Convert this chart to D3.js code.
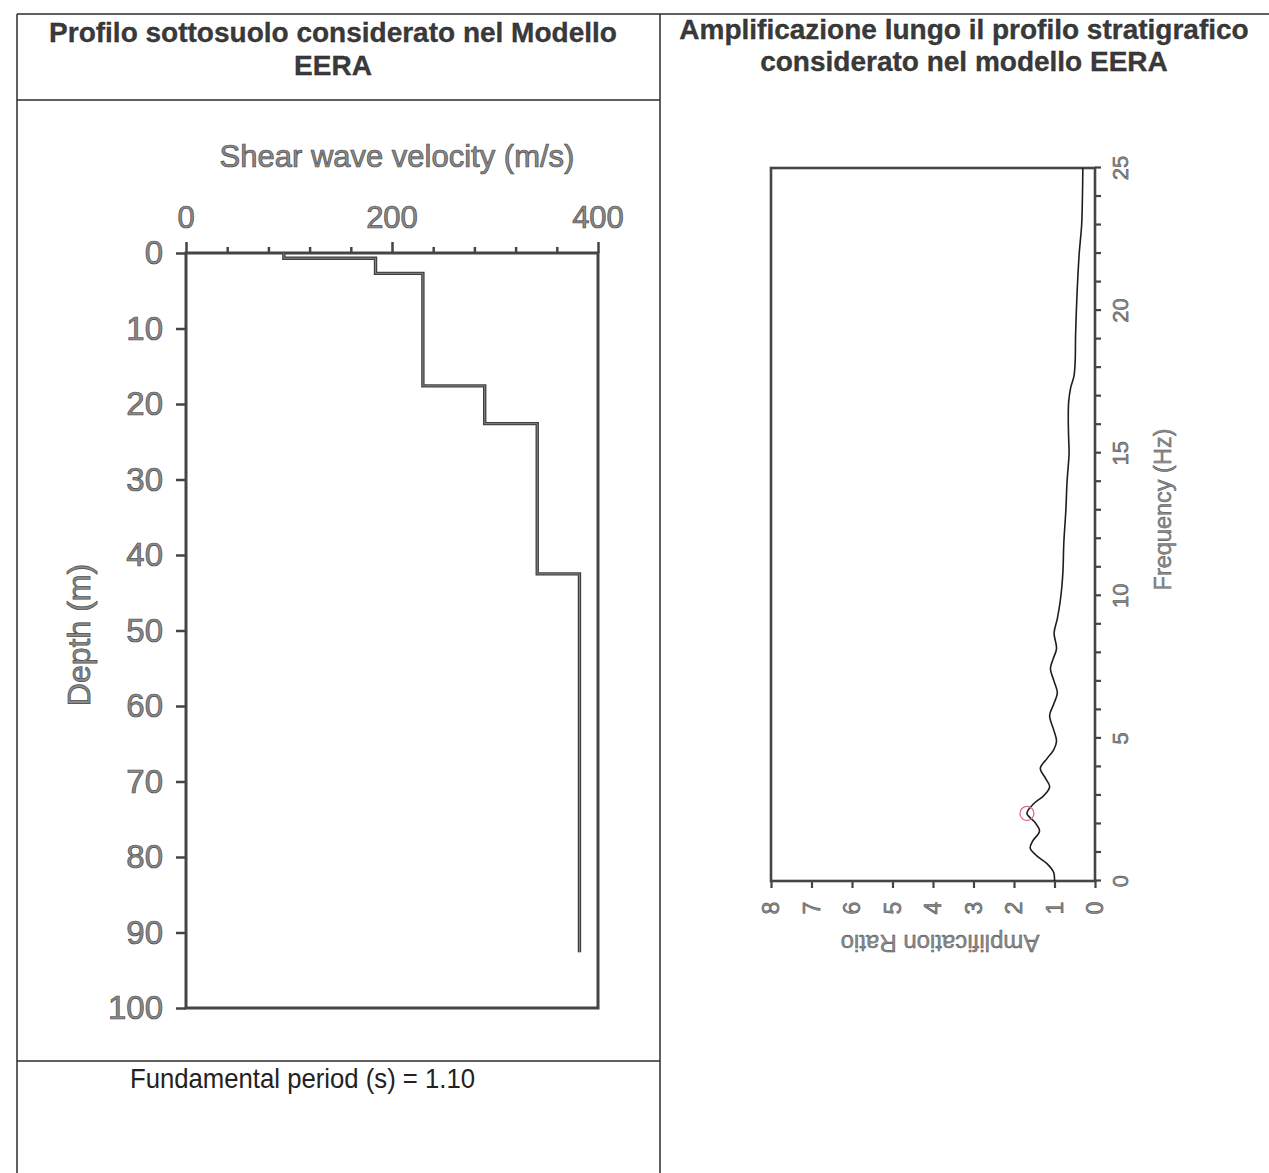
<!DOCTYPE html>
<html>
<head>
<meta charset="utf-8">
<script src="https://cdn.jsdelivr.net/npm/d3@7"></script>
<style>
  html, body { margin: 0; padding: 0; background: #fff; }
  svg { display: block; }
  text { font-family: "Liberation Sans", Arial, Helvetica, sans-serif; }
</style>
</head>
<body>
<svg id="sheet" width="1269" height="1173"></svg>
<script>
// ---- Shear-wave velocity profile (one entry per layer) ----
const layerTop      = [0, 0.7, 2.7, 17.6, 22.6, 42.5];
const layerBottom   = [0.7, 2.7, 17.6, 22.6, 42.5, 92.6];
const shearVelocity = [95, 184, 230, 290, 341, 382];

const velocityTicks  = d3.range(0, 401, 40);
const velocityLabels = [0, 200, 400];
const depthTicks     = d3.range(0, 101, 10);

// ---- Amplification spectrum along the profile ----
const frequencyHz = [0, 0.3, 0.6, 0.9, 1.15, 1.4, 1.75, 2.05, 2.37, 2.7, 3.0, 3.3, 3.6, 3.95,
  4.3, 4.6, 4.9, 5.3, 5.8, 6.2, 6.6, 7.0, 7.45, 7.8, 8.15, 8.7, 9.2, 9.8, 10.3, 10.9, 11.85,
  13.0, 14.0, 15.0, 15.5, 16.2, 16.8, 17.3, 17.7, 18.2, 19.1, 20.0, 21.0, 22.0, 23.0, 24.0, 25.0];
const amplification = [1.00, 1.02, 1.18, 1.45, 1.60, 1.54, 1.37, 1.48, 1.68, 1.52, 1.26, 1.12, 1.22, 1.35,
  1.18, 1.02, 0.95, 1.02, 1.12, 1.02, 0.93, 1.01, 1.10, 1.03, 0.95, 1.01, 0.93, 0.86, 0.82, 0.79, 0.77,
  0.72, 0.69, 0.64, 0.65, 0.66, 0.65, 0.60, 0.52, 0.49, 0.48, 0.46, 0.43, 0.39, 0.33, 0.31, 0.30];

const frequencyTicks  = d3.range(0, 26, 1);
const frequencyLabels = [0, 5, 10, 15, 20, 25];
const ampTicks        = d3.range(0, 9, 1);

// ---- Sheet texts ----
const headerLeft  = ["Profilo sottosuolo considerato nel Modello", "EERA"];
const headerRight = ["Amplificazione lungo il profilo stratigrafico", "considerato nel modello EERA"];
const periodNote  = "Fundamental period (s) = 1.10";

const svg = d3.select("#sheet");
const INK = "#2b2b2b";
const AXIS = "#454545";
const LABEL_FILL = "#8a8a8a";
const LABEL_EDGE = "#4a4a4a";

// ---------- table grid ----------
const grid = svg.append("g").attr("stroke", INK).attr("stroke-width", 1.5);
[[17, 14, 1269, 14], [17, 14, 17, 1173], [660, 14, 660, 1173],
 [17, 100, 660, 100], [17, 1061, 660, 1061]].forEach(([x1, y1, x2, y2]) =>
  grid.append("line").attr("x1", x1).attr("y1", y1).attr("x2", x2).attr("y2", y2));

function header(lines, cx, y0, dy) {
  svg.append("g").selectAll("text").data(lines).join("text")
    .attr("x", cx).attr("y", (d, i) => y0 + i * dy)
    .attr("text-anchor", "middle")
    .attr("font-size", 28).attr("font-weight", "bold")
    .attr("fill", "#3a3a3a").attr("stroke", "#222").attr("stroke-width", 0.3)
    .text(d => d);
}
header(headerLeft, 333, 42, 33);
header(headerRight, 964, 39, 32);

// narrow setting of the period note
svg.append("text")
  .attr("x", 130).attr("y", 1088)
  .attr("font-size", 28)
  .attr("textLength", 345).attr("lengthAdjust", "spacingAndGlyphs")
  .attr("fill", "#222")
  .text(periodNote);

function grayLabel(sel, size) {
  return sel.attr("font-size", size).attr("fill", LABEL_FILL)
    .attr("stroke", LABEL_EDGE).attr("stroke-width", 0.7);
}

// ---------- left chart: velocity vs depth ----------
const xV = d3.scaleLinear().domain([0, 400]).range([186, 598]);
const yD = d3.scaleLinear().domain([0, 100]).range([253, 1008]);

const left = svg.append("g");

const topAxis = left.append("g").attr("transform", `translate(0,${yD(0)})`)
  .call(d3.axisTop(xV).tickValues(velocityTicks).tickSize(6).tickSizeOuter(0).tickFormat(""));
topAxis.select(".domain").remove();
topAxis.selectAll(".tick line")
  .attr("stroke", AXIS).attr("stroke-width", 2.5)
  .attr("y2", d => velocityLabels.includes(d) ? -11 : -6);

const leftAxis = left.append("g").attr("transform", `translate(${xV(0)},0)`)
  .call(d3.axisLeft(yD).tickValues(depthTicks).tickSize(10).tickSizeOuter(0).tickFormat(""));
leftAxis.select(".domain").remove();
leftAxis.selectAll(".tick line").attr("stroke", AXIS).attr("stroke-width", 2.5);

left.append("rect")
  .attr("x", xV(0)).attr("y", yD(0))
  .attr("width", xV(400) - xV(0)).attr("height", yD(100) - yD(0))
  .attr("fill", "none").attr("stroke", AXIS).attr("stroke-width", 3);

grayLabel(left.append("g").selectAll("text").data(velocityLabels).join("text")
  .attr("x", d => xV(d)).attr("y", 228).attr("text-anchor", "middle")
  .text(d => d), 31);

grayLabel(left.append("g").selectAll("text").data(depthTicks).join("text")
  .attr("x", xV(0) - 23).attr("y", d => yD(d) + 11).attr("text-anchor", "end")
  .text(d => d), 33);

grayLabel(left.append("text")
  .attr("x", 397).attr("y", 167).attr("text-anchor", "middle")
  .text("Shear wave velocity (m/s)"), 31);

grayLabel(left.append("text")
  .attr("transform", `translate(90,635) rotate(-90)`).attr("text-anchor", "middle")
  .text("Depth (m)"), 32);

// stepped profile: each layer contributes its top and bottom point
const profilePts = [];
shearVelocity.forEach((v, i) => {
  profilePts.push([v, layerTop[i]]);
  profilePts.push([v, layerBottom[i]]);
});
const profileLine = d3.line().x(d => xV(d[0])).y(d => yD(d[1]));
left.append("path").datum(profilePts)
  .attr("d", profileLine)
  .attr("fill", "none").attr("stroke", "#404040").attr("stroke-width", 3.4)
  .attr("stroke-linejoin", "miter");
left.append("path").datum(profilePts)
  .attr("d", profileLine)
  .attr("fill", "none").attr("stroke", "#8d8d8d").attr("stroke-width", 0.9);

// ---------- right chart: amplification spectrum (turned a quarter turn) ----------
const AX_X = 1095, AX_Y = 881;      // corner where frequency 0 meets amplification 0
const W = AX_Y - 168;               // frequency axis length
const H = AX_X - 771;               // amplification axis length

const xF = d3.scaleLinear().domain([0, 25]).range([0, W]);
const yA = d3.scaleLinear().domain([0, 8]).range([H, 0]);

const right = svg.append("g")
  .attr("transform", `translate(${AX_X},${AX_Y}) rotate(-90) translate(0,${-H})`);

right.append("rect")
  .attr("x", 0).attr("y", 0).attr("width", W).attr("height", H)
  .attr("fill", "none").attr("stroke", AXIS).attr("stroke-width", 2.6);

const fAxis = right.append("g").attr("transform", `translate(0,${H})`)
  .call(d3.axisBottom(xF).tickValues(frequencyTicks).tickSize(6).tickSizeOuter(0).tickFormat(""));
fAxis.select(".domain").remove();
fAxis.selectAll(".tick line").attr("stroke", AXIS).attr("stroke-width", 2.2);

const aAxis = right.append("g")
  .call(d3.axisLeft(yA).tickValues(ampTicks).tickSize(7).tickSizeOuter(0).tickFormat(""));
aAxis.select(".domain").remove();
aAxis.selectAll(".tick line").attr("stroke", AXIS).attr("stroke-width", 2.2);

grayLabel(right.append("g").selectAll("text").data(frequencyLabels).join("text")
  .attr("x", d => xF(d)).attr("y", H + 25)
  .attr("text-anchor", "middle").attr("dominant-baseline", "central")
  .text(d => d), 22).attr("stroke-width", 0.5);

grayLabel(right.append("g").selectAll("text").data(ampTicks).join("text")
  .attr("x", -27).attr("y", d => yA(d))
  .attr("text-anchor", "middle").attr("dominant-baseline", "central")
  .text(d => d), 23).attr("stroke-width", 0.5);

grayLabel(right.append("text")
  .attr("x", W / 2 + 15).attr("y", H + 68)
  .attr("text-anchor", "middle").attr("dominant-baseline", "central")
  .text("Frequency (Hz)"), 23.5).attr("stroke-width", 0.4);

grayLabel(right.append("text")
  .attr("transform", `translate(-62,${H / 2 + 7}) rotate(-90)`)
  .attr("text-anchor", "middle").attr("dominant-baseline", "central")
  .text("Amplification Ratio"), 24).attr("stroke-width", 0.4);

const spectrum = frequencyHz.map((f, i) => [f, amplification[i]]);
right.append("path").datum(spectrum)
  .attr("d", d3.line().x(d => xF(d[0])).y(d => yA(d[1])).curve(d3.curveCatmullRom.alpha(0.5)))
  .attr("fill", "none").attr("stroke", "#1e1e1e").attr("stroke-width", 1.6);

// circle on the spectral peak
const peak = spectrum[d3.maxIndex(spectrum, d => d[1])];
right.append("circle")
  .attr("cx", xF(peak[0])).attr("cy", yA(peak[1])).attr("r", 7)
  .attr("fill", "none").attr("stroke", "#e0649c").attr("stroke-width", 1.3);
</script>
</body>
</html>
